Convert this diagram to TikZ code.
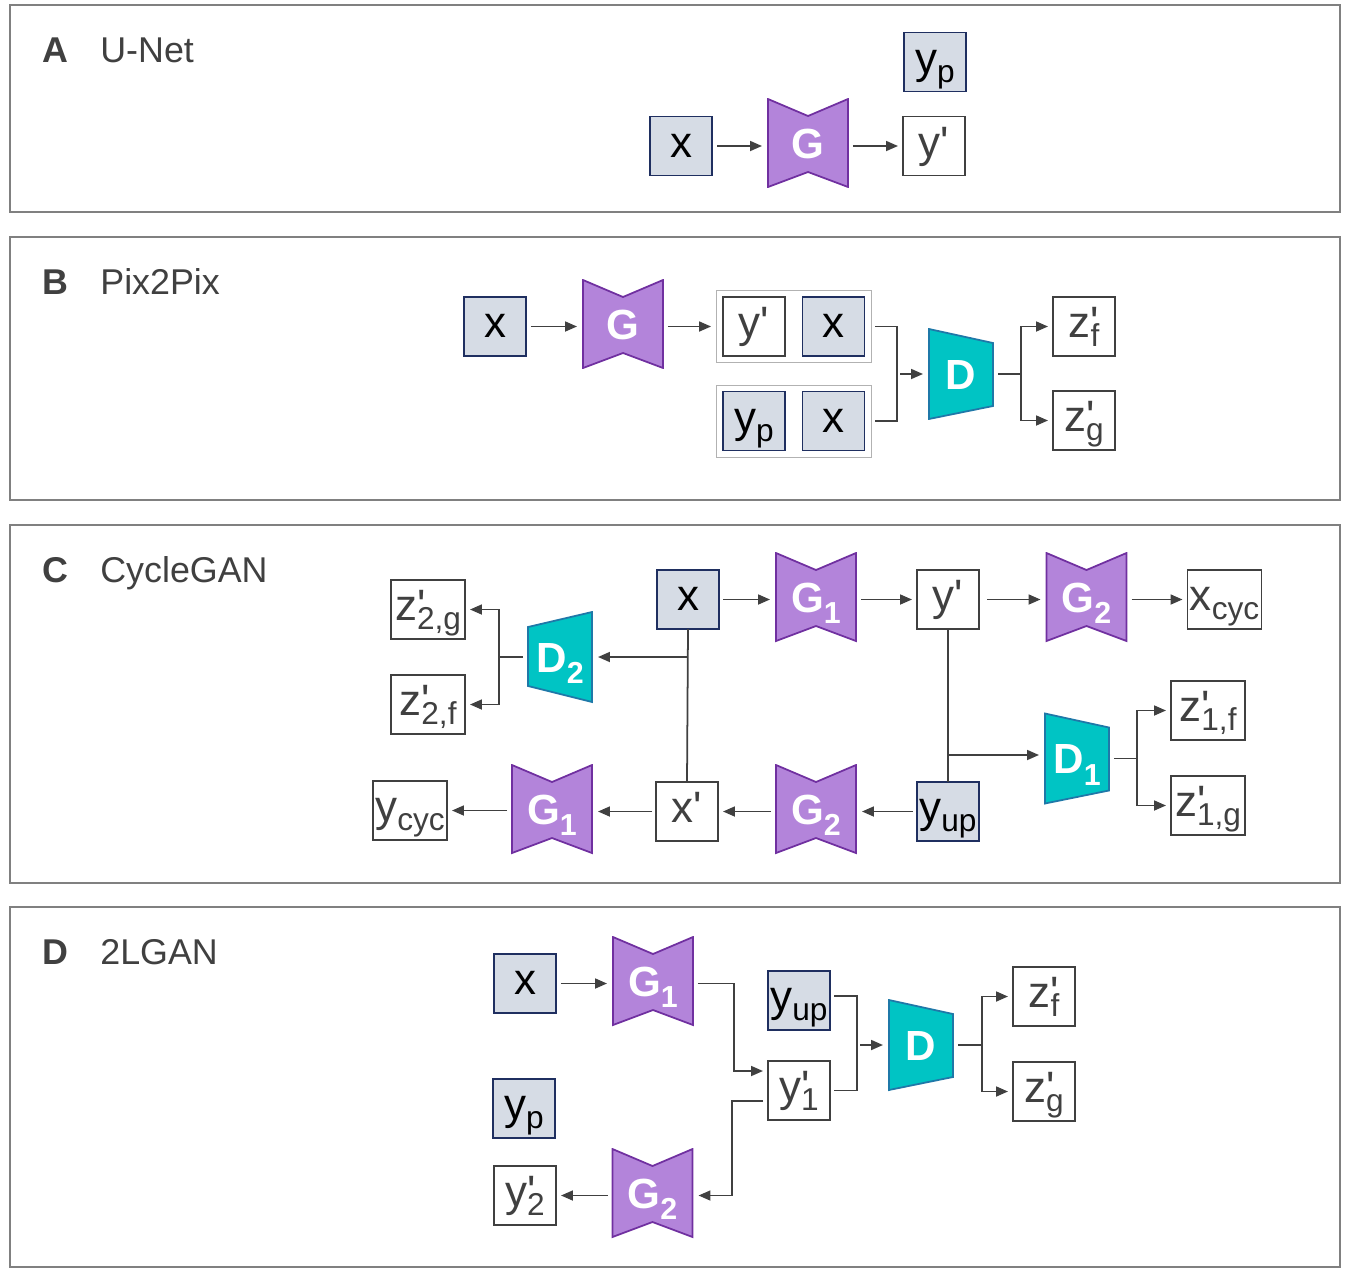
\documentclass[tikz,border=0pt]{standalone}
\usepackage{fontspec}
\setmainfont{Liberation Sans}[Ligatures=TeXOff]
\usetikzlibrary{arrows.meta,positioning,fit,calc}

\definecolor{realfill}{HTML}{D6DCE5}
\definecolor{realline}{HTML}{1F2F60}
\definecolor{genfill}{HTML}{B384DA}
\definecolor{genline}{HTML}{7030A0}
\definecolor{discfill}{HTML}{00C4C4}
\definecolor{discline}{HTML}{1F78A8}
\definecolor{ink}{HTML}{404040}

% lowered subscript, and a prime over a subscript
\newcommand{\dn}[2][-0.2em]{\raisebox{#1}{\scalebox{0.72}{#2}}}
\newcommand{\prm}[2]{#1\rlap{'}\dn{#2}}

\tikzset{
  panel/.style={draw=gray, line width=1.1pt},
  title/.style={anchor=base west, inner sep=0pt, text=ink, font=\fontsize{20.4}{24}\selectfont},
  img/.style={draw, line width=0.9pt, minimum width=1.24cm, minimum height=1.18cm,
    inner sep=0pt, outer sep=0pt, text height=16.2pt, text depth=3.2pt,
    font=\fontsize{25}{29}\selectfont},
  real/.style={img, fill=realfill, draw=realline, text=black},
  fake/.style={img, fill=white, draw=ink, text=ink},
  wide/.style={minimum width=1.48cm},
  grp/.style={draw=gray!60, line width=0.5pt, inner sep=0.13cm},
  genr/.style={minimum width=1.64cm, minimum height=1.8cm, inner sep=0pt, outer sep=0pt,
    text height=17.2pt, text depth=0pt,
    text=white, font=\bfseries\fontsize{24}{28}\selectfont,
    path picture={
      \path[fill=genfill, draw=genline, line width=1pt]
        ([shift={(0.02cm,-0.02cm)}]path picture bounding box.north west) --
        ([shift={(0cm,-0.36cm)}]path picture bounding box.north) --
        ([shift={(-0.02cm,-0.02cm)}]path picture bounding box.north east) --
        ([shift={(-0.02cm,0.02cm)}]path picture bounding box.south east) --
        ([shift={(0cm,0.32cm)}]path picture bounding box.south) --
        ([shift={(0.02cm,0.02cm)}]path picture bounding box.south west) -- cycle;
    }},
  discr/.style={minimum width=1.32cm, minimum height=1.84cm, inner sep=0pt, outer sep=0pt,
    text height=17.2pt, text depth=0pt,
    text=white, font=\bfseries\fontsize{24}{28}\selectfont,
    path picture={
      \path[fill=discfill, draw=discline, line width=1pt]
        ([shift={(0.02cm,-0.02cm)}]path picture bounding box.north west) --
        ([shift={(-0.02cm,-0.3cm)}]path picture bounding box.north east) --
        ([shift={(-0.02cm,0.28cm)}]path picture bounding box.south east) --
        ([shift={(0.02cm,0.02cm)}]path picture bounding box.south west) -- cycle;
    }},
  discl/.style={discr,
    path picture={
      \path[fill=discfill, draw=discline, line width=1pt]
        ([shift={(0.02cm,-0.32cm)}]path picture bounding box.north west) --
        ([shift={(-0.02cm,-0.02cm)}]path picture bounding box.north east) --
        ([shift={(-0.02cm,0.02cm)}]path picture bounding box.south east) --
        ([shift={(0.02cm,0.34cm)}]path picture bounding box.south west) -- cycle;
    }},
  wire/.style={draw=ink, line width=1pt},
  arr/.style={wire, -{Triangle[length=0.24cm,width=0.2cm]}, shorten >=0.1cm},
}

\begin{document}
\begin{tikzpicture}[x=0.02cm, y=-0.02cm]
  \useasboundingbox (0,0) rectangle (1346,1275);

  % A: U-Net
  \draw[panel] (10,5) rectangle (1340,212);
  \node[title] (tA) at (42,62) {\textbf{A}};
  \node[title] (nA) at (100,62) {U-Net};
  \node[real] (xA) at (681,146) {x};
  \node[genr] (GA) at (808,143) {G};
  \node[fake] (yA) at (934,146) {y'};
  \node[real] (ypA) at (935,62) {y\dn{p}};
  \draw[arr, shorten <=0.1cm] (xA.east) -- (xA.east -| GA.west);
  \draw[arr, shorten <=0.08cm] (GA.east |- yA) -- (yA.west);

  % B: Pix2Pix
  \draw[panel] (10,237) rectangle (1340,500);
  \node[title] (tB) at (42,294) {\textbf{B}};
  \node[title] (nB) at (100,294) {Pix2Pix};
  \node[real] (xB) at (495,326.5) {x};
  \node[genr] (GB) at (623,324) {G};
  \node[fake] (yB) at (754,326.5) {y'};
  \node[real] (xB1) at (833.5,326.5) {x};
  \node[real] (ypB) at (754,421) {y\dn{p}};
  \node[real] (xB2) at (833.5,421) {x};
  \node[grp, fit=(yB)(xB1)] (gB1) {};
  \node[grp, fit=(ypB)(xB2)] (gB2) {};
  \node[discr] (DB) at (961,374) {D};
  \node[fake] (zfB) at (1084,326.5) {\prm{z}{f}};
  \node[fake] (zgB) at (1084,420.5) {\prm{z}{g}};
  \coordinate (jB) at (897,374);
  \coordinate (kB) at (1021,374);
  \draw[arr, shorten <=0.1cm] (xB.east) -- (xB.east -| GB.west);
  \draw[arr, shorten <=0.08cm] (GB.east |- xB) -- (gB1.west);
  \draw[wire, shorten <=0.08cm, shorten >=0.08cm] (gB1.east) -| (jB) |- (gB2.east);
  \draw[arr, shorten <=0.06cm] (jB) -- (DB.west);
  \draw[wire, shorten <=0.08cm] (DB.east) -- (kB);
  \draw[arr] (kB) |- (zfB);
  \draw[arr] (kB) |- (zgB);

  % C: CycleGAN
  \draw[panel] (10,525) rectangle (1340,883);
  \node[title] (tC) at (42,582) {\textbf{C}};
  \node[title] (nC) at (100,582) {CycleGAN};
  \node[real] (xC) at (688,599.5) {x};
  \node[genr] (GC1) at (816,597) {G\dn[-0.28em]{1}};
  \node[fake] (yC) at (948,599.5) {y'};
  \node[genr] (GC2) at (1086.5,597) {G\dn[-0.28em]{2}};
  \node[fake, wide] (xcC) at (1224.5,599.5) {x\dn{cyc}};
  \node[real] (yuC) at (948,811.5) {y\dn{up}};
  \node[genr] (GC3) at (816,809) {G\dn[-0.28em]{2}};
  \node[fake] (xpC) at (687,811.5) {x'};
  \node[genr] (GC4) at (552,809) {G\dn[-0.28em]{1}};
  \node[fake, wide] (ycC) at (410,810.5) {y\dn{cyc}};
  \node[discl] (DC2) at (560,657) {D\dn[-0.28em]{2}};
  \node[fake, wide] (zgC2) at (428,609.5) {\prm{z}{2,g}};
  \node[fake, wide] (zfC2) at (428,704.5) {\prm{z}{2,f}};
  \node[discr] (DC1) at (1077,758.5) {D\dn[-0.28em]{1}};
  \node[fake, wide] (zfC1) at (1208,710.5) {\prm{z}{1,f}};
  \node[fake, wide] (zgC1) at (1208,805.5) {\prm{z}{1,g}};
  \coordinate (cC) at (687,657);
  \coordinate (dC) at (499,657);
  \coordinate (eC) at (949,755);
  \coordinate (fC) at (1137,758.5);
  \draw[arr, shorten <=0.08cm] (xC.east) -- (xC.east -| GC1.west);
  \draw[arr, shorten <=0.08cm] (GC1.east |- yC) -- (yC.west);
  \draw[arr, shorten <=0.16cm] (yC.east) -- (yC.east -| GC2.west);
  \draw[arr, shorten <=0.08cm] (GC2.east |- xcC) -- (xcC.west);
  \draw[arr, shorten <=0.08cm] (yuC.west) -- (yuC.west -| GC3.east);
  \draw[arr, shorten <=0.08cm] (GC3.west |- xpC) -- (xpC.east);
  \draw[arr, shorten <=0.08cm] (xpC.west) -- (xpC.west -| GC4.east);
  \draw[arr, shorten <=0.08cm] (GC4.west |- ycC) -- (ycC.east);
  \draw[wire] (xC.south) -- (xpC.north);
  \draw[arr] (cC) -- (DC2.east);
  \draw[wire, shorten <=0.08cm] (DC2.west) -- (dC);
  \draw[arr] (dC) |- (zgC2);
  \draw[arr] (dC) |- (zfC2);
  \draw[wire] (yC.south) -- (yuC.north);
  \draw[arr] (eC) -- (eC -| DC1.west);
  \draw[wire, shorten <=0.08cm] (DC1.east) -- (fC);
  \draw[arr] (fC) |- (zfC1);
  \draw[arr] (fC) |- (zgC1);

  % D: 2LGAN
  \draw[panel] (10,907) rectangle (1340,1267);
  \node[title] (tD) at (42,964) {\textbf{D}};
  \node[title] (nD) at (100,964) {2LGAN};
  \node[real] (xD) at (525,983.5) {x};
  \node[genr] (GD1) at (653,981) {G\dn[-0.28em]{1}};
  \node[real] (yuD) at (799,1000.5) {y\dn{up}};
  \node[fake] (yD1) at (799,1090.5) {\prm{y}{1}};
  \node[discr] (DD) at (921,1045) {D};
  \node[fake] (zfD) at (1044,996.5) {\prm{z}{f}};
  \node[fake] (zgD) at (1044,1091.5) {\prm{z}{g}};
  \node[real] (ypD) at (524,1108.5) {y\dn{p}};
  \node[genr] (GD2) at (652.5,1193) {G\dn[-0.28em]{2}};
  \node[fake] (yD2) at (525,1195.5) {\prm{y}{2}};
  \coordinate (pD) at (734,1071);
  \coordinate (qD) at (732,1195.5);
  \coordinate (jD) at (857,1045);
  \coordinate (kD) at (982,1045);
  \draw[arr, shorten <=0.1cm] (xD.east) -- (xD.east -| GD1.west);
  \draw[arr, shorten <=0.08cm] (GD1.east |- xD) -| (pD) -- (pD -| yD1.west);
  \draw[arr, shorten <=0.1cm] ([yshift=-0.21cm]yD1.west) -| (qD) -- (qD -| GD2.east);
  \draw[arr, shorten <=0.08cm] (GD2.west |- yD2) -- (yD2.east);
  \draw[wire, shorten <=0.08cm, shorten >=0.08cm] ([yshift=0.09cm]yuD.east) -| (jD) |- (yD1.east);
  \draw[arr, shorten <=0.06cm] (jD) -- (DD.west);
  \draw[wire, shorten <=0.08cm] (DD.east) -- (kD);
  \draw[arr] (kD) |- (zfD);
  \draw[arr] (kD) |- (zgD);
\end{tikzpicture}
\end{document}
